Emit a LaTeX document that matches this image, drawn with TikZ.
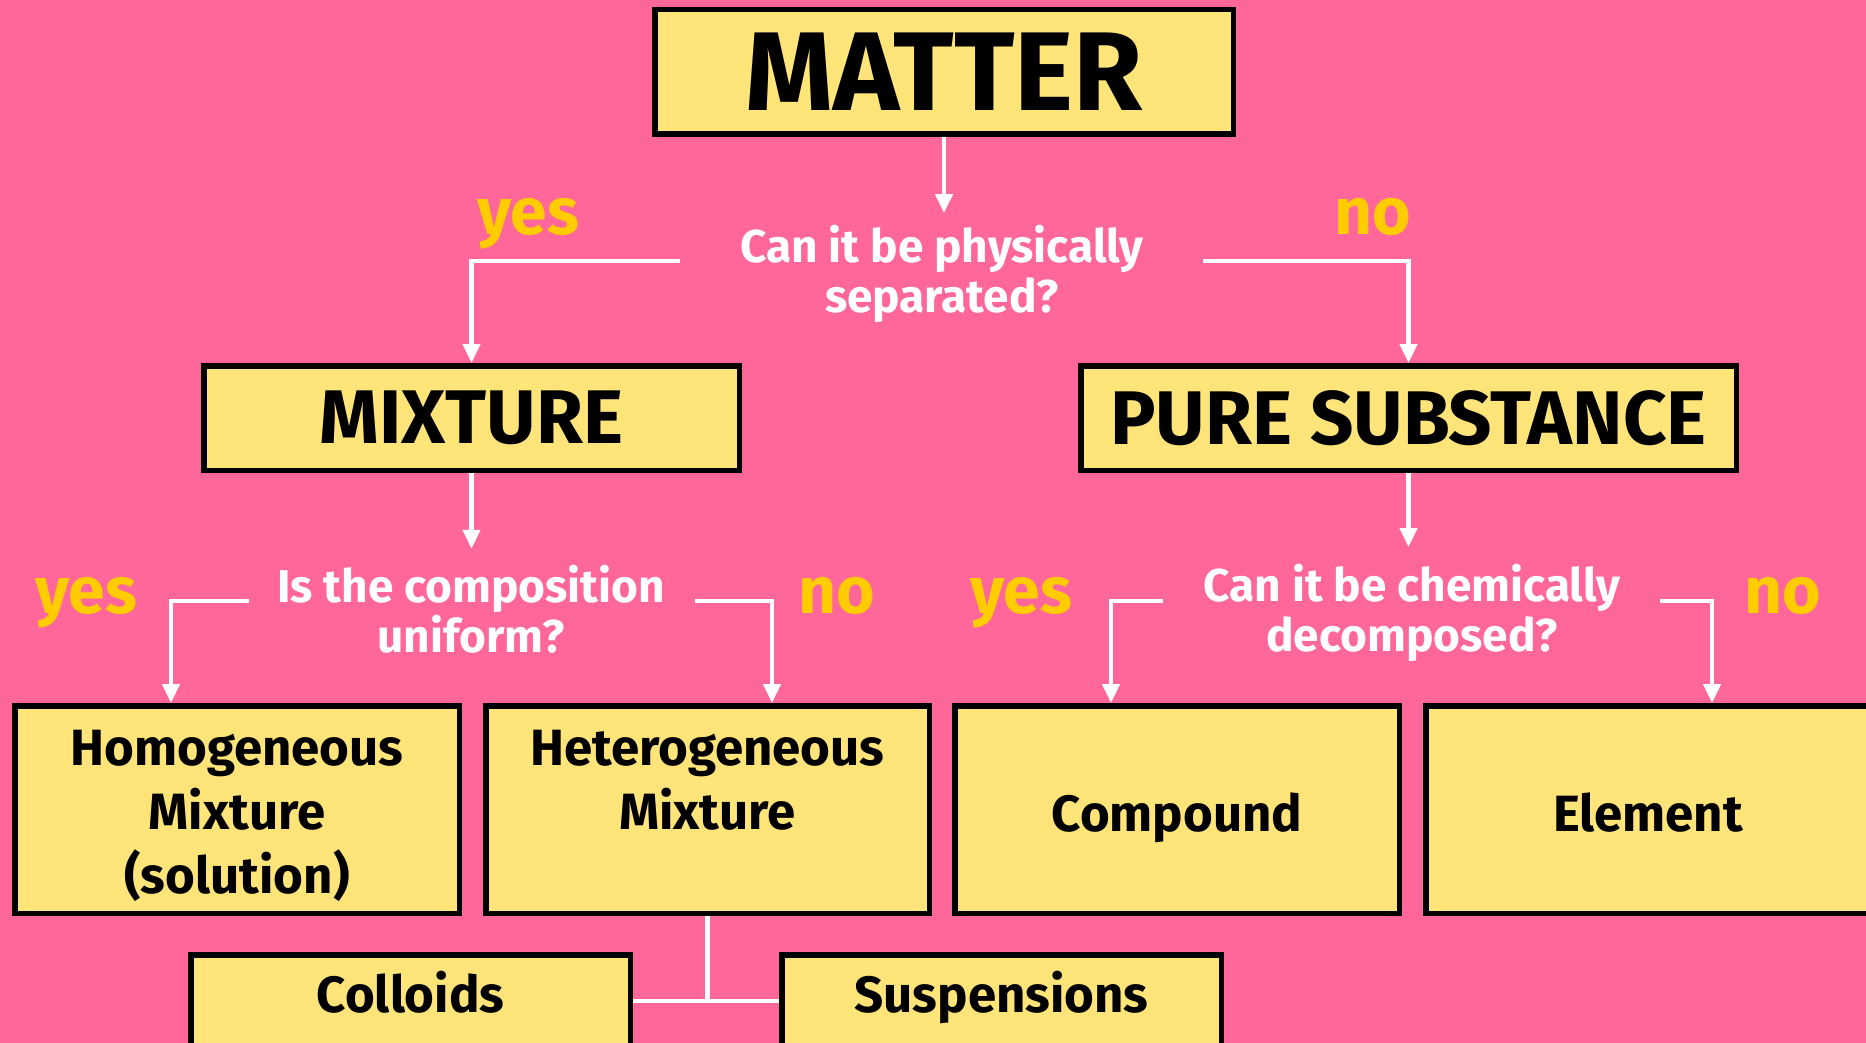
\documentclass[tikz,border=0pt]{standalone}
\usepackage{fontspec}
\setmainfont{Fira Sans}
\usepackage{tikz}
\usetikzlibrary{positioning, arrows.meta}

\definecolor{bgpink}{HTML}{FF6699}
\definecolor{boxyellow}{HTML}{FFE47A}
\definecolor{answer}{HTML}{FFCC00}

\tikzset{
    flatbox/.style={draw=black, line width=5.5pt, fill=boxyellow, text=black, inner sep=0pt},
    box/.style={flatbox, align=center},
    bigfont/.style={font=\fontsize{112}{118}\selectfont\bfseries},
    midfont/.style={font=\fontsize{76}{80}\selectfont\bfseries},
    smallfont/.style={font=\fontsize{51}{64}\selectfont\bfseries},
    question/.style={text=white, font=\fontsize{46}{50}\selectfont\bfseries, align=center, inner xsep=0pt, inner ysep=13pt},
    answerlabel/.style={text=answer, font=\fontsize{66}{70}\selectfont\bfseries, anchor=base},
    link/.style={draw=white, line width=4.5pt},
    arrowlink/.style={link, -{Triangle[width=17pt,length=19pt]}},
}

\begin{document}
\begin{tikzpicture}[x=1pt, y=-1pt]
    % Background
    \fill[bgpink] (0,0) rectangle (1866,1043);
    \useasboundingbox (0,0) rectangle (1866,1043);
    % Boxes
    \node[box, bigfont, minimum width=578.5pt, minimum height=124.5pt] (matter) at (944,72) {MATTER};
    \node[box, midfont, minimum width=535.5pt, minimum height=104.5pt] (mixture) at (471.5,418) {MIXTURE};
    \node[box, midfont, minimum width=655.5pt, minimum height=104.5pt] (pure) at (1408.5,418) {PURE SUBSTANCE};
    \node[box, smallfont, minimum width=444.5pt, minimum height=207.5pt, text height=180pt, text depth=12pt] (homo) at (237,809.5) {Homogeneous\\Mixture\\(solution)};
    \node[box, smallfont, minimum width=443.5pt, minimum height=207.5pt, text height=180pt, text depth=12pt] (hetero) at (707.5,809.5) {Heterogeneous\\Mixture\\\phantom{(solution)}};
    \node[flatbox, smallfont, minimum width=444.5pt, minimum height=207.5pt, text height=45pt, text depth=2pt] (compound) at (1177,809.5) {Compound};
    \node[flatbox, smallfont, minimum width=444.5pt, minimum height=207.5pt, text height=45pt, text depth=2pt] (element) at (1648,809.5) {Element};
    \node[flatbox, smallfont, minimum width=439.5pt, minimum height=92.5pt, text height=38pt, text depth=16pt] (colloids) at (410.5,1001) {Colloids};
    \node[flatbox, smallfont, minimum width=439.5pt, minimum height=92.5pt, text height=38pt, text depth=16pt] (susp) at (1001.5,1001) {Suspensions};
    % Questions
    \node[question, inner ysep=12pt] (qphys) at (942,274) {Can it be physically\\separated?};
    \node[question, inner ysep=16pt] (qcomp) at (471,609) {Is the composition\\uniform?};
    \node[question, inner ysep=17pt] (qchem) at (1412,613) {Can it be chemically\\decomposed?};
    % Answers
    \node[answerlabel] (yes1) at (528,234) {yes};
    \node[answerlabel] (no1) at (1373,234) {no};
    \node[answerlabel] (yes2) at (86,613) {yes};
    \node[answerlabel] (no2) at (837,613) {no};
    \node[answerlabel] (yes3) at (1021,613) {yes};
    \node[answerlabel] (no3) at (1783,613) {no};
    % Line starts beside the questions
    \coordinate (qphys-l) at (680,261);
    \coordinate (qphys-r) at (1203,261);
    \coordinate (qcomp-l) at (249,601);
    \coordinate (qcomp-r) at (695,601);
    \coordinate (qchem-l) at (1163,601);
    \coordinate (qchem-r) at (1660,601);
    % Connectors
    \draw[arrowlink] (matter.south) -- (matter.south |- qphys.north);
    \draw[arrowlink] (qphys-l) -| (mixture.north);
    \draw[arrowlink] (qphys-r) -| (pure.north);
    \draw[arrowlink] (mixture.south) -- (mixture.south |- qcomp.north);
    \draw[arrowlink] (pure.south) -- (pure.south |- qchem.north);
    \draw[arrowlink] (qcomp-l) -| ([xshift=-66pt]homo.north);
    \draw[arrowlink] (qcomp-r) -| ([xshift=64.5pt]hetero.north);
    \draw[arrowlink] (qchem-l) -| ([xshift=-66pt]compound.north);
    \draw[arrowlink] (qchem-r) -| ([xshift=64pt]element.north);
    \draw[link] (hetero.south) -- (hetero.south |- colloids.east);
    \draw[link] (colloids.east) -- (susp.west);
\end{tikzpicture}
\end{document}
